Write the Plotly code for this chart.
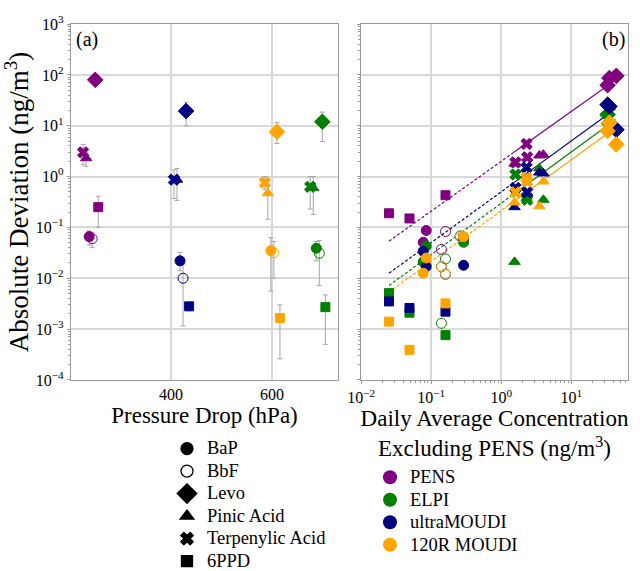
import numpy as np
import plotly.graph_objects as go

# ---------------- data ----------------
compounds = ["BaP", "BbF", "Levo", "Pinic Acid", "Terpenylic Acid", "6PPD"]
instruments = ["PENS", "ELPI", "ultraMOUDI", "120R MOUDI"]

# Panel (a): pressure drop (hPa) per instrument, mean absolute deviation per compound
pressure_drop = {"PENS": 240, "ELPI": 690, "ultraMOUDI": 420, "120R MOUDI": 600}
mean_dev = {
    "PENS":       [0.066, 0.060, 80.0, 2.3, 3.0, 0.25],
    "ELPI":       [0.039, 0.031, 12.0, 0.60, 0.63, 0.0027],
    "ultraMOUDI": [0.022, 0.010, 19.5, 0.87, 0.87, 0.0028],
    "120R MOUDI": [0.035, 0.032, 7.6, 0.47, 0.76, 0.00165],
}
dev_upper = {
    "PENS":       [0.085, 0.080, 80.0, 3.0, 4.3, 0.41],
    "ELPI":       [0.053, 0.055, 18.6, 1.0, 1.0, 0.0047],
    "ultraMOUDI": [0.032, 0.019, 29.0, 1.45, 1.35, 0.0031],
    "120R MOUDI": [0.063, 0.053, 11.5, 0.75, 1.0, 0.0030],
}
dev_lower = {
    "PENS":       [0.045, 0.040, 80.0, 1.6, 1.7, 0.10],
    "ELPI":       [0.022, 0.0072, 4.9, 0.18, 0.23, 0.0005],
    "ultraMOUDI": [0.014, 0.00115, 10.0, 0.34, 0.37, 0.0023],
    "120R MOUDI": [0.0056, 0.010, 4.5, 0.145, 0.56, 0.00026],
}

# Panel (b): daily average concentration excluding PENS (ng/m3) per compound (3 days)
conc_x = {
    "BaP": [0.077, 0.085, 0.29],
    "BbF": [0.14, 0.16, 0.26],
    "Levo": [33, 35, 44],
    "Pinic Acid": [1.55, 3.5, 4.0],
    "Terpenylic Acid": [1.6, 2.3, 2.35],
    "6PPD": [0.025, 0.049, 0.16],
}
daily_dev = {
    "PENS": {"BaP": [0.051, 0.087, 0.06], "BbF": [0.037, 0.083, 0.066], "Levo": [63, 87, 96],
             "Pinic Acid": [1.8, 2.6, 2.7], "Terpenylic Acid": [1.9, 4.4, 2.4], "6PPD": [0.19, 0.15, 0.43]},
    "ELPI": {"BaP": [0.021, 0.043, 0.051], "BbF": [0.0013, 0.024, 0.068], "Levo": [16.6, 11, 8.4],
             "Pinic Acid": [0.021, 1.45, 0.35], "Terpenylic Acid": [1.1, 0.39, 0.35], "6PPD": [0.0051, 0.0021, 0.00076]},
    "ultraMOUDI": {"BaP": [0.034, 0.017, 0.018], "BbF": [0.017, 0.012, None], "Levo": [26, 24, 8.3],
                   "Pinic Acid": [0.25, 1.2, 1.15], "Terpenylic Acid": [0.6, 1.5, 0.49], "6PPD": [0.0035, 0.0026, 0.0022]},
    "120R MOUDI": {"BaP": [0.0126, 0.025, 0.066], "BbF": [0.017, 0.012, 0.066], "Levo": [7.9, 11.5, 4.3],
                   "Pinic Acid": [0.31, 0.26, 0.8], "Terpenylic Acid": [0.49, 0.95, 0.8], "6PPD": [0.0014, 0.00039, 0.0032]},
}

# log-log fit lines: log10(y) = intercept + slope*log10(x)
fit_slope = {"PENS": 0.98, "ELPI": 1.01, "ultraMOUDI": 1.0, "120R MOUDI": 1.0}
fit_intercept = {"PENS": 0.30, "ELPI": -0.525, "ultraMOUDI": -0.30, "120R MOUDI": -0.67}
fit_xmin = 0.025
fit_xbreak = 1.5
fit_xmax = {"PENS": 31, "ELPI": 43, "ultraMOUDI": 43, "120R MOUDI": 39}

# tick labels
y_tickvals = [1e-4, 1e-3, 1e-2, 1e-1, 1e0, 1e1, 1e2, 1e3]
y_ticktext = ["10<sup>\u22124</sup>", "10<sup>\u22123</sup>", "10<sup>\u22122</sup>", "10<sup>\u22121</sup>",
              "10<sup>0</sup>", "10<sup>1</sup>", "10<sup>2</sup>", "10<sup>3</sup>"]
x2_tickvals = [1e-2, 1e-1, 1e0, 1e1]
x2_ticktext = ["10<sup>\u22122</sup>", "10<sup>\u22121</sup>", "10<sup>0</sup>", "10<sup>1</sup>"]
x1_tickvals = [400, 600]

# ---------------- styles ----------------
colors = {"PENS": "#800080", "ELPI": "#008000", "ultraMOUDI": "#000080", "120R MOUDI": "#FFA500"}
symbols = {"BaP": "circle", "BbF": "circle-open", "Levo": "diamond", "Pinic Acid": "triangle-up",
           "Terpenylic Acid": "x", "6PPD": "square"}
sizes = {"BaP": 10, "BbF": 10, "Levo": 12, "Pinic Acid": 10, "Terpenylic Acid": 10, "6PPD": 9}
legend_sizes = {"BaP": 12, "BbF": 12, "Levo": 15, "Pinic Acid": 12, "Terpenylic Acid": 11, "6PPD": 11}
jitter = {"BaP": -2, "BbF": 4, "Levo": 10, "Pinic Acid": -8, "Terpenylic Acid": -14, "6PPD": 16}
draw_order = ["PENS", "ELPI", "ultraMOUDI", "120R MOUDI"]
FONT = "Liberation Serif, Times New Roman, serif"
GRID = "#d9d9d9"
FRAME = "#9a9a9a"


def big(t):
    return '<span style="font-size:18.5px">' + t + "</span>"


fig = go.Figure()

# ---- panel (a)
for inst in draw_order:
    m = np.array(mean_dev[inst])
    hi = np.array(dev_upper[inst])
    lo = np.array(dev_lower[inst])
    xs = [pressure_drop[inst] + jitter[c] for c in compounds]
    fig.add_trace(go.Scatter(
        x=xs, y=m, mode="markers", showlegend=False, xaxis="x", yaxis="y",
        marker=dict(color=colors[inst], symbol=[symbols[c] for c in compounds], opacity=1,
                    size=[sizes[c] for c in compounds],
                    line=dict(color=colors[inst], width=1)),
        error_y=dict(type="data", symmetric=False, array=hi - m, arrayminus=m - lo,
                     color="#a6a6a6", thickness=1, width=2.5),
    ))

# ---- panel (b) fit lines
for inst in draw_order:
    for seg, dash in (((fit_xmin, fit_xbreak), "3px,2px"), ((fit_xbreak, fit_xmax[inst]), "solid")):
        xl = np.array(seg, dtype=float)
        yl = 10 ** (fit_intercept[inst] + fit_slope[inst] * np.log10(xl))
        fig.add_trace(go.Scatter(x=xl, y=yl, mode="lines", showlegend=False, xaxis="x2", yaxis="y2",
                                 line=dict(color=colors[inst], width=1.2, dash=dash), hoverinfo="skip"))

# ---- panel (b) markers
for inst in draw_order:
    xs, ys, sy, sz = [], [], [], []
    for c in compounds:
        for xv, yv in zip(conc_x[c], daily_dev[inst][c]):
            if yv is None:
                continue
            xs.append(xv); ys.append(yv); sy.append(symbols[c]); sz.append(sizes[c])
    fig.add_trace(go.Scatter(
        x=xs, y=ys, mode="markers", showlegend=False, xaxis="x2", yaxis="y2",
        marker=dict(color=colors[inst], symbol=sy, size=sz, opacity=1,
                    line=dict(color=colors[inst], width=1)),
    ))

# ---- legends
for c in compounds:
    fig.add_trace(go.Scatter(x=[None], y=[None], mode="markers", name=big(c), legend="legend",
                             marker=dict(color="black", symbol=symbols[c], size=legend_sizes[c],
                                         line=dict(color="black", width=1.3))))
for inst in instruments:
    fig.add_trace(go.Scatter(x=[None], y=[None], mode="markers", name=big(inst), legend="legend2",
                             marker=dict(color=colors[inst], symbol="circle", size=14)))

axis_common = dict(showgrid=True, gridcolor=GRID, gridwidth=1.5, showline=True, mirror=True,
                   linecolor=FRAME, linewidth=1.2, zeroline=False,
                   tickfont=dict(family=FONT, size=16, color="black"))
minor_log = dict(ticks="outside", ticklen=2, tickcolor=FRAME, showgrid=False, dtick="D1")

fig.update_layout(
    width=640, height=571,
    margin=dict(l=0, r=0, t=24, b=191, autoexpand=False),
    paper_bgcolor="white", plot_bgcolor="white",
    font=dict(family=FONT, color="black"),
    xaxis=dict(domain=[71 / 640, 338 / 640], range=[202, 731], tickmode="array", tickvals=x1_tickvals,
               ticks="", anchor="y",
               title=dict(text="Pressure Drop (hPa)", font=dict(size=23, family=FONT), standoff=2),
               **axis_common),
    yaxis=dict(type="log", range=[-4.002, 3.002], tickmode="array", tickvals=y_tickvals, ticktext=y_ticktext,
               ticks="outside", ticklen=3, tickcolor=FRAME, anchor="x", minor=minor_log,
               title=dict(text="Absolute Deviation (ng/m<sup>3</sup>)", font=dict(size=27, family=FONT), standoff=0),
               **axis_common),
    xaxis2=dict(domain=[361 / 640, 628 / 640], type="log", range=[-2.002, 1.81],
                tickmode="array", tickvals=x2_tickvals, ticktext=x2_ticktext, anchor="y2",
                ticks="outside", ticklen=3, tickcolor=FRAME, minor=minor_log,
                title=dict(text="Daily Average Concentration<br>Excluding PENS (ng/m<sup>3</sup>)",
                           font=dict(size=23, family=FONT), standoff=0),
                **axis_common),
    yaxis2=dict(type="log", range=[-4.002, 3.002], tickmode="array", tickvals=y_tickvals,
                anchor="x2", showticklabels=False,
                ticks="outside", ticklen=3, tickcolor=FRAME, minor=minor_log,
                **axis_common),
    legend=dict(x=167 / 640, y=-0.147, xanchor="left", yanchor="top", bgcolor="rgba(0,0,0,0)",
                font=dict(size=15, family=FONT, color="black")),
    legend2=dict(x=370 / 640, y=-0.2275, xanchor="left", yanchor="top", bgcolor="rgba(0,0,0,0)",
                 font=dict(size=15, family=FONT, color="black")),
    annotations=[
        dict(text="(a)", xref="x domain", yref="y domain", x=0.01, y=0.995, xanchor="left",
             yanchor="top", showarrow=False, font=dict(size=20, family=FONT, color="black")),
        dict(text="(b)", xref="x2 domain", yref="y2 domain", x=0.995, y=0.995, xanchor="right",
             yanchor="top", showarrow=False, font=dict(size=20, family=FONT, color="black")),
    ],
)

fig.write_html("out.html")
